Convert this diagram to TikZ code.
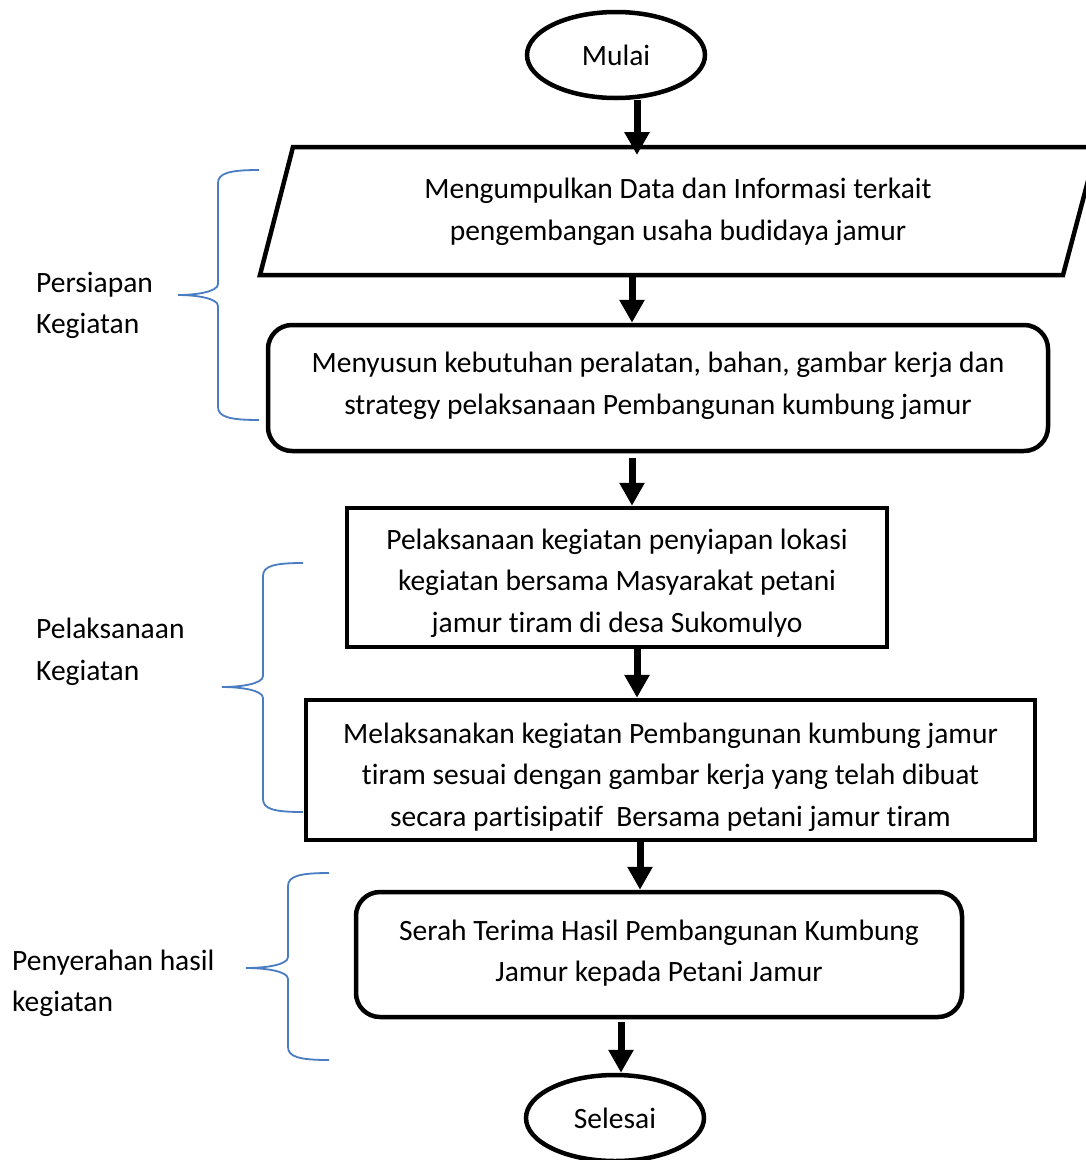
\documentclass[tikz,border=0pt]{standalone}
\usepackage{fontspec}
\setmainfont[Ligatures={NoCommon}]{Carlito}
\usetikzlibrary{shapes.geometric,arrows.meta}
\definecolor{braceblue}{HTML}{4A7CC2}
\begin{document}
\begin{tikzpicture}[x=1pt,y=-1pt,
  every node/.style={font=\fontsize{29.5}{41.5}\selectfont, align=center, inner sep=0pt},
  term/.style={ellipse, draw, line width=4.5pt, minimum width=178pt, minimum height=86pt},
  rbox/.style={draw, line width=4.5pt, rounded corners=24pt},
  sbox/.style={draw, line width=4.5pt},
  arr/.style={line width=7pt, -{Triangle[width=24pt,length=23pt]}},
  brace/.style={draw=braceblue, line width=1.8pt},
  lab/.style={anchor=west, align=left}]
\useasboundingbox (0,0) rectangle (1086,1160);
\fill[white] (0,0) rectangle (1086,1160);

% terminals
\node[term] (mulai) at (616,55) {Mulai};
\node[term] (selesai) at (615,1118) {Selesai};

% parallelogram
\draw[line width=4.5pt, line join=miter] (293,147) -- (1097,147) -- (1063,275) -- (260,275) -- cycle;
\node (para) at (678,212) {Mengumpulkan Data dan Informasi terkait\\pengembangan usaha budidaya jamur};
\coordinate (ptop) at (678,147);
\coordinate (pbot) at (678,275);

% boxes
\node[rbox, minimum width=780pt, minimum height=126pt] (b2) at (658,388) {};
\node (t2) at (658,386) {Menyusun kebutuhan peralatan, bahan, gambar kerja dan\\strategy pelaksanaan Pembangunan kumbung jamur};
\node[sbox, minimum width=540pt, minimum height=139pt] (b3) at (617,577.5) {};
\node (t3) at (617,583) {Pelaksanaan kegiatan penyiapan lokasi\\kegiatan bersama Masyarakat petani\\jamur tiram di desa Sukomulyo};
\node[sbox, minimum width=729pt, minimum height=140pt] (b4) at (670.5,770) {};
\node (t4) at (670.5,777) {Melaksanakan kegiatan Pembangunan kumbung jamur\\tiram sesuai dengan gambar kerja yang telah dibuat\\secara partisipatif~~Bersama petani jamur tiram};
\node[rbox, minimum width=606pt, minimum height=125pt] (b5) at (659,954.5) {};
\node (t5) at (659,953) {Serah Terima Hasil Pembangunan Kumbung\\Jamur kepada Petani Jamur};

% arrows
\draw[arr] (637,0 |- mulai.south) -- (637,155);
\draw[arr] (632,0 |- pbot) -- (632,0 |- b2.north);
\draw[arr] (632,458) -- (632,0 |- b3.north);
\draw[arr] (637,0 |- b3.south) -- (637,0 |- b4.north);
\draw[arr] (640,0 |- b4.south) -- (640,0 |- b5.north);
\draw[arr] (621,1022) -- (621,0 |- selesai.north);

% braces
\draw[brace] (259,170) .. controls (230,170) and (218,173) .. (218,183) -- (218,284)
  .. controls (218,292) and (195,295) .. (178,295)
  .. controls (195,295) and (218,298) .. (218,306) -- (218,407)
  .. controls (218,417) and (230,420) .. (259,420);
\draw[brace] (303,563) .. controls (274,563) and (263,566) .. (263,576) -- (263,676)
  .. controls (263,684) and (240,687) .. (222,687)
  .. controls (240,687) and (263,690) .. (263,698) -- (263,799)
  .. controls (263,809) and (274,812) .. (303,812);
\draw[brace] (329,873) .. controls (300,873) and (288,876) .. (288,886) -- (288,957)
  .. controls (288,965) and (265,968) .. (246,968)
  .. controls (265,968) and (288,971) .. (288,979) -- (288,1047)
  .. controls (288,1057) and (300,1060) .. (329,1060);

% labels
\node[lab] (l1) at (36,305.5) {Persiapan\\Kegiatan};
\node[lab] (l2) at (36,652) {Pelaksanaan\\Kegiatan};
\node[lab] (l3) at (12,983.5) {Penyerahan hasil\\kegiatan};
\end{tikzpicture}
\end{document}
